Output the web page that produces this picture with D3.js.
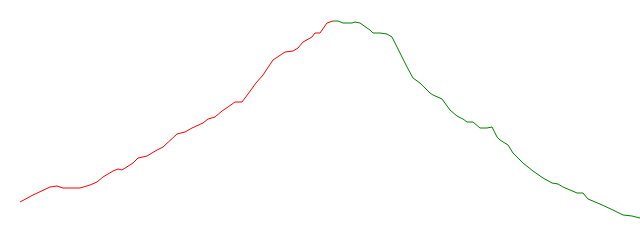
<!DOCTYPE html>
<html lang="en">
<head>
<meta charset="utf-8">
<style>
  body { margin: 0; background: #fff; }
  svg { display: block; }
</style>
</head>
<body>
<div id="chart"></div>
<script src="https://d3js.org/d3.v7.min.js"></script>
<script>
// rising part (red)
const riseDays = [0, 13, 30, 37, 43, 60, 70, 77, 83, 93, 98, 102, 113, 118, 127, 137, 143, 157, 165, 172,
  183, 188, 195, 202, 208, 215, 222, 228, 236, 243, 253, 265, 273, 278, 283, 292, 295, 300, 307, 313];
const riseValues = [28, 35, 43, 44, 42, 42, 45, 48, 53, 59, 61, 60, 67, 72, 74, 80, 83, 96, 98, 102,
  107, 111, 113, 119, 123, 128, 128, 136, 147, 155, 170, 178, 179, 182, 188, 193, 197, 197, 207, 209];

// falling part (green)
const fallDays = [313, 318, 323, 332, 335, 340, 347, 350, 353, 360, 367, 372, 377, 387, 393, 400, 410, 413, 422,
  430, 437, 443, 447, 453, 460, 467, 472, 477, 480, 488, 493, 503, 513, 523, 532, 538, 543, 557, 563,
  568, 580, 593, 603, 612, 620];
const fallValues = [209, 209, 207, 207, 208, 207, 202, 200, 197, 197, 196, 193, 183, 163, 152, 147, 137, 135, 131,
  120, 114, 111, 108, 108, 102, 102, 103, 93, 90, 85, 77, 67, 59, 52, 47, 46, 43, 37, 37,
  31, 26, 20, 15, 14, 12];

const width = 640, height = 240;

const svg = d3.select("#chart")
  .append("svg")
  .attr("width", width)
  .attr("height", height);

const x = d3.scaleLinear()
  .domain([0, 620])
  .range([20, 640]);

const y = d3.scaleLinear()
  .domain([0, 210])
  .range([230, 20]);

const line = d3.line()
  .x(d => x(d[0]))
  .y(d => y(d[1]));

svg.append("path")
  .datum(d3.zip(riseDays, riseValues))
  .attr("fill", "none")
  .attr("stroke", "#ff0000")
  .attr("stroke-width", 1)
  .attr("d", line);

svg.append("path")
  .datum(d3.zip(fallDays, fallValues))
  .attr("fill", "none")
  .attr("stroke", "#008000")
  .attr("stroke-width", 1)
  .attr("d", line);
</script>
</body>
</html>
